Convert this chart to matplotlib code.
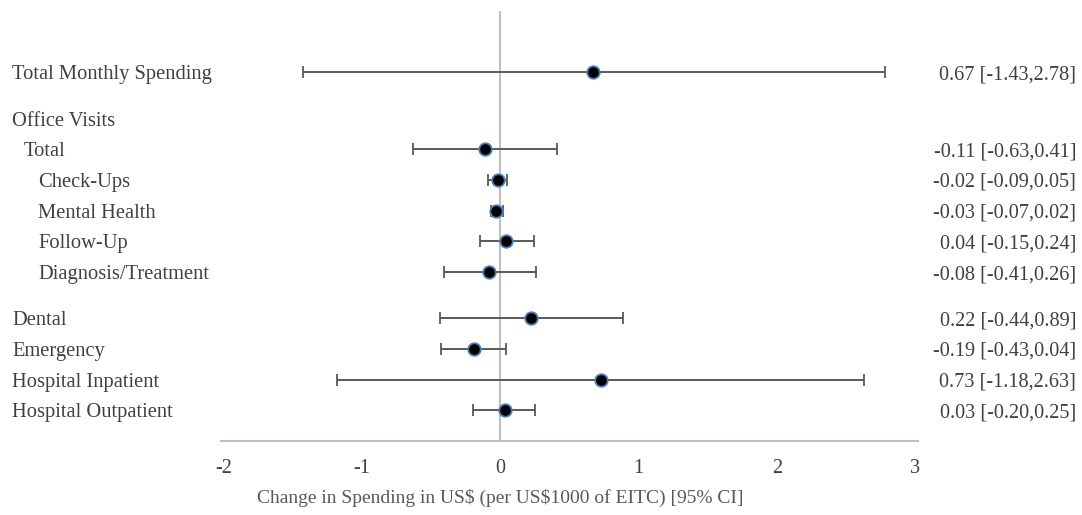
import matplotlib.pyplot as plt
import matplotlib.transforms as mtransforms

# forest plot of spending changes per US$1000 of EITC

labels = ["Total Monthly Spending", "Office Visits", "Total", "Check-Ups",
          "Mental Health", "Follow-Up", "Diagnosis/Treatment", "Dental",
          "Emergency", "Hospital Inpatient", "Hospital Outpatient"]
indent = [0, 0, 1, 2, 2, 2, 2, 0, 0, 0, 0]
est = [0.67, None, -0.11, -0.02, -0.03, 0.04, -0.08, 0.22, -0.19, 0.73, 0.03]
lo = [-1.43, None, -0.63, -0.09, -0.07, -0.15, -0.41, -0.44, -0.43, -1.18, -0.20]
hi = [2.78, None, 0.41, 0.05, 0.02, 0.24, 0.26, 0.89, 0.04, 2.63, 0.25]
xticks = [-2, -1, 0, 1, 2, 3]

# vertical spacing (row steps from the top), with small gaps between groups
steps = [0, 1.5, 1, 1, 1, 1, 1, 1.5, 1, 1, 1]
ypos = []
y = 11.0
for s in steps:
    y -= s
    ypos.append(y)

plt.rcParams['font.family'] = ['Liberation Serif', 'DejaVu Serif']
txtcol = '#404040'

fig = plt.figure(figsize=(10.82, 5.15), dpi=100)
ax = fig.add_axes([221/1082, 1 - 441/515, (918 - 221)/1082, (441 - 11)/515])
ax.set_xlim(-2.02, 3.02)
ax.set_ylim(-1, 13)

ax.axvline(0, color='#bfbfbf', lw=1.5, zorder=1)

for i in range(len(labels)):
    if est[i] is None:
        continue
    ax.errorbar(est[i], ypos[i], xerr=[[est[i] - lo[i]], [hi[i] - est[i]]],
                fmt='o', color='#595959', ecolor='#595959', elinewidth=1.4,
                capsize=4.5, capthick=1.4, markersize=9,
                markerfacecolor='black', markeredgecolor='#4a7ebb',
                markeredgewidth=1.3, zorder=3)

trans = mtransforms.blended_transform_factory(fig.transFigure, ax.transData)
for i, lab in enumerate(labels):
    x0 = [12, 24, 38][indent[i]] / 1082
    ax.text(x0, ypos[i], lab, transform=trans, ha='left',
            va='center_baseline', fontsize=14.8, color=txtcol)
    if est[i] is not None:
        s = "%.2f [%.2f,%.2f]" % (est[i], lo[i], hi[i])
        ax.text(1076/1082, ypos[i], s, transform=trans, ha='right',
                va='center_baseline', fontsize=14.6, color=txtcol)

ax.set_yticks([])
ax.set_xticks(xticks)
ax.set_xticklabels([str(t) for t in xticks])
ax.tick_params(axis='x', length=0, pad=13, labelsize=14.5, labelcolor=txtcol)
for side in ['top', 'right', 'left']:
    ax.spines[side].set_visible(False)
ax.spines['bottom'].set_color('#bfbfbf')
ax.spines['bottom'].set_linewidth(1.5)

fig.text(500/1082, 1 - 498/515,
         "Change in Spending in US\\$ (per US\\$1000 of EITC) [95% CI]",
         ha='center', va='center', fontsize=14, color='#595959')

fig.savefig('out.png', dpi=100)
